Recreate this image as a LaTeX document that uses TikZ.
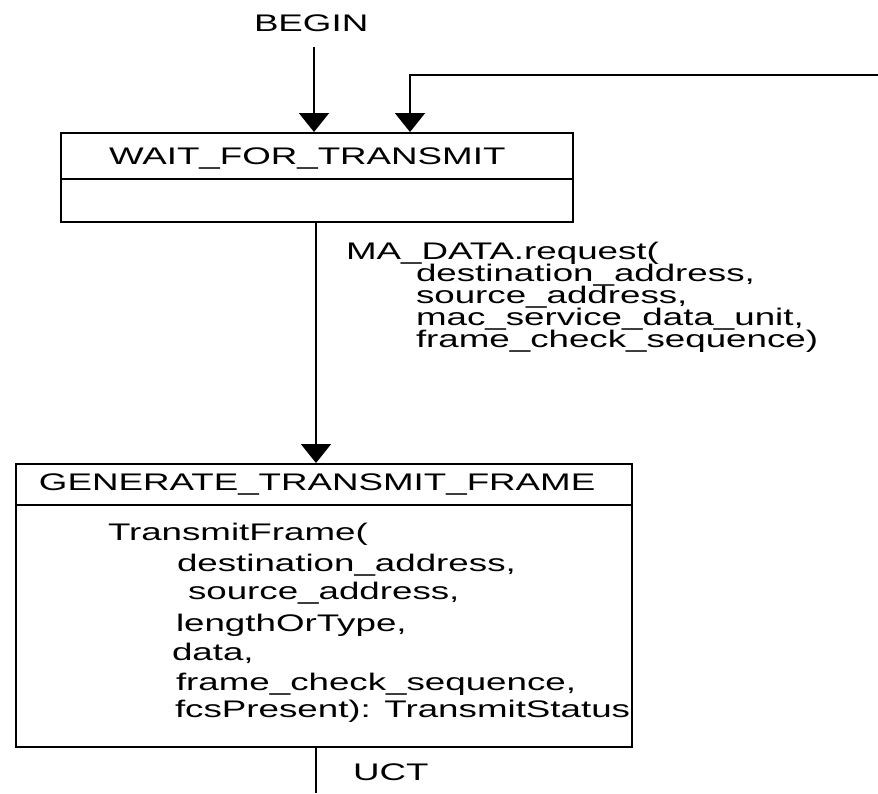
\documentclass[tikz,border=0pt]{standalone}
\usepackage{fontspec}
\setmainfont{Liberation Sans}[FakeStretch=1.53]
\usetikzlibrary{positioning,arrows.meta}

\tikzset{
  statebox/.style={draw, inner sep=0pt},
  lbl/.style={inner sep=0pt, anchor=base west, font=\fontsize{12pt}{14pt}\selectfont},
}

\begin{document}
\begin{tikzpicture}[x=0.5pt, y=-0.5pt, line width=1pt, >={Triangle[width=15pt,length=9.5pt]}]
\useasboundingbox (0,0) rectangle (878,793);

		% the two states
		\node[statebox, minimum width=256pt, minimum height=44.5pt] (wait) at (317,177.5) {};
		\draw (wait.west |- 0,179) -- (wait.east |- 0,179);
		\node[lbl] (waittitle) at (108,164) {WAIT\_FOR\_TRANSMIT};

		\node[statebox, minimum width=308pt, minimum height=141.5pt] (gen) at (324,605.5) {};
		\draw (gen.west |- 0,505) -- (gen.east |- 0,505);
		\node[lbl] (gentitle) at (38,490) {GENERATE\_TRANSMIT\_FRAME};

		% entry and the loop back from the right
		\node[lbl] (begin) at (253,31) {BEGIN};
		\coordinate (beginfoot) at (314,47);
		\draw[->] (beginfoot) -- (beginfoot |- wait.north);
		\coordinate (loopin) at (878,75);
		\draw[->] (loopin) -| (wait.north -| 410,0);

		% the transition with its condition
		\draw[->] (wait.south -| 316,0) -- (gen.north -| 316,0);
		\node[lbl] (ma1) at (345,259) {MA\_DATA.request(};
		\node[lbl] (ma2) at (415,281) {destination\_address,};
		\node[lbl] (ma3) at (415,303) {source\_address,};
		\node[lbl] (ma4) at (415,325) {mac\_service\_data\_unit,};
		\node[lbl] (ma5) at (415,347) {frame\_check\_sequence)};

		% the action of the state
		\node[lbl] (tf1) at (107,540) {TransmitFrame(};
		\node[lbl] (tf2) at (176,571) {destination\_address,};
		\node[lbl] (tf3) at (187,599) {source\_address,};
		\node[lbl] (tf4) at (175,631) {lengthOrType,};
		\node[lbl] (tf5) at (171,660) {data,};
		\node[lbl] (tf6) at (175,690) {frame\_check\_sequence,};
		\node[lbl] (tf7) at (174,717) {fcsPresent): TransmitStatus};

		% leaving unconditionally
		\coordinate (uctend) at (316,793);
		\draw (gen.south -| uctend) -- (uctend);
		\node[lbl] (uct) at (352,780) {UCT};

\end{tikzpicture}
\end{document}
